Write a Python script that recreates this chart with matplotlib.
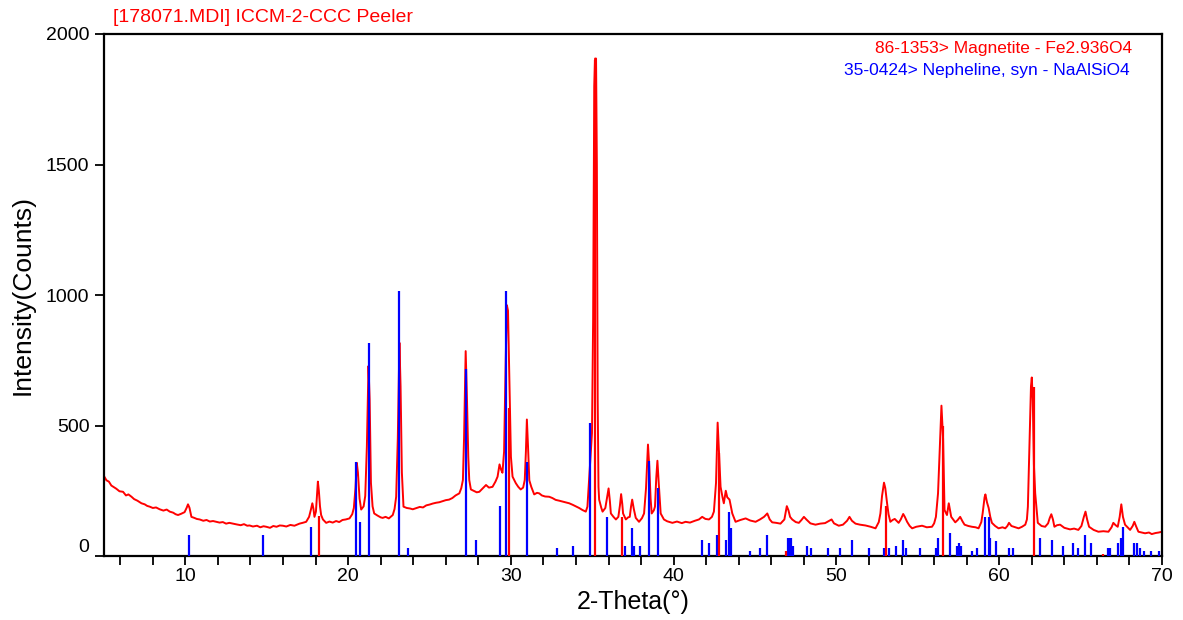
import matplotlib
matplotlib.use("Agg")
import matplotlib.pyplot as plt

plt.rcParams['font.family'] = ['Liberation Sans', 'DejaVu Sans']

two_theta = [
    5.00, 5.15, 5.30, 5.45, 5.57, 5.75, 5.95, 6.17, 6.35, 6.50, 6.69, 6.85, 7.05, 7.30, 7.50, 7.65,
    7.81, 8.00, 8.20, 8.42, 8.65, 8.85, 9.04, 9.25, 9.40, 9.55, 9.75, 9.95, 10.08, 10.16, 10.25, 10.37,
    10.55, 10.70, 10.88, 11.10, 11.30, 11.50, 11.70, 11.90, 12.10, 12.30, 12.50, 12.70, 12.92, 13.15,
    13.40, 13.60, 13.80, 13.94, 14.15, 14.40, 14.60, 14.80, 14.97, 15.20, 15.40, 15.60, 15.80, 15.99,
    16.20, 16.45, 16.70, 16.90, 17.01, 17.20, 17.42, 17.60, 17.72, 17.80, 17.87, 17.93, 18.02, 18.10,
    18.14, 18.20, 18.27, 18.34, 18.45, 18.65, 18.85, 19.05, 19.26, 19.45, 19.65, 19.85, 20.08, 20.25,
    20.35, 20.45, 20.53, 20.60, 20.70, 20.80, 20.95, 21.05, 21.15, 21.25, 21.32, 21.40, 21.50, 21.60,
    21.80, 22.00, 22.12, 22.30, 22.50, 22.74, 22.85, 22.95, 23.05, 23.15, 23.22, 23.30, 23.40, 23.60,
    23.80, 23.97, 24.20, 24.40, 24.60, 24.80, 25.00, 25.20, 25.40, 25.60, 25.80, 26.00, 26.20, 26.40,
    26.60, 26.83, 26.95, 27.05, 27.12, 27.22, 27.30, 27.38, 27.44, 27.54, 27.70, 27.90, 28.06, 28.25,
    28.47, 28.65, 28.87, 29.05, 29.18, 29.30, 29.40, 29.48, 29.58, 29.68, 29.75, 29.82, 29.90, 30.00,
    30.10, 30.30, 30.45, 30.60, 30.75, 30.85, 30.92, 30.98, 31.05, 31.13, 31.25, 31.43, 31.60, 31.74,
    31.90, 32.10, 32.35, 32.55, 32.75, 32.96, 33.20, 33.40, 33.58, 33.80, 34.00, 34.19, 34.40, 34.60,
    34.70, 34.85, 34.98, 35.05, 35.12, 35.17, 35.23, 35.28, 35.33, 35.38, 35.42, 35.55, 35.63, 35.80,
    35.92, 36.00, 36.08, 36.14, 36.30, 36.45, 36.60, 36.70, 36.77, 36.84, 36.89, 37.06, 37.20, 37.30,
    37.38, 37.45, 37.55, 37.67, 37.87, 38.05, 38.18, 38.30, 38.42, 38.50, 38.58, 38.65, 38.78, 38.85,
    38.93, 39.00, 39.08, 39.20, 39.40, 39.60, 39.92, 40.20, 40.50, 40.73, 41.00, 41.30, 41.55, 41.75,
    41.95, 42.17, 42.35, 42.47, 42.60, 42.70, 42.78, 42.88, 43.00, 43.08, 43.20, 43.29, 43.43, 43.60,
    43.80, 44.10, 44.42, 44.70, 45.03, 45.30, 45.55, 45.75, 45.90, 46.05, 46.30, 46.56, 46.80, 46.95,
    47.05, 47.15, 47.28, 47.50, 47.69, 47.85, 48.00, 48.15, 48.40, 48.71, 49.00, 49.30, 49.55, 49.70,
    49.85, 50.14, 50.40, 50.65, 50.80, 50.95, 51.17, 51.45, 51.78, 52.10, 52.40, 52.60, 52.70, 52.80,
    52.92, 53.00, 53.11, 53.20, 53.31, 53.45, 53.58, 53.82, 53.95, 54.10, 54.20, 54.34, 54.50, 54.65,
    54.90, 55.26, 55.55, 55.87, 56.00, 56.11, 56.24, 56.35, 56.45, 56.55, 56.64, 56.79, 56.90, 57.05,
    57.30, 57.45, 57.60, 57.75, 57.87, 58.10, 58.32, 58.55, 58.73, 58.90, 58.98, 59.10, 59.15, 59.25,
    59.35, 59.45, 59.55, 59.75, 59.96, 60.20, 60.37, 60.50, 60.60, 60.75, 61.00, 61.19, 61.40, 61.60,
    61.70, 61.76, 61.85, 61.95, 62.00, 62.06, 62.13, 62.21, 62.37, 62.60, 62.82, 63.00, 63.10, 63.20,
    63.30, 63.39, 63.55, 63.74, 64.00, 64.35, 64.60, 64.86, 65.05, 65.20, 65.30, 65.40, 65.52, 65.80,
    66.09, 66.40, 66.71, 66.90, 67.01, 67.15, 67.28, 67.40, 67.50, 67.60, 67.73, 68.04, 68.20, 68.30,
    68.40, 68.55, 68.75, 68.96, 69.20, 69.37, 69.60, 69.80, 70.00,
]
counts = [
    306, 290, 285, 270, 265, 258, 248, 246, 232, 236, 227, 218, 212, 202, 198, 192,
    189, 184, 186, 179, 174, 178, 170, 166, 160, 157, 162, 168, 185, 198, 185, 150,
    146, 142, 140, 135, 138, 132, 134, 131, 128, 130, 124, 127, 124, 121,
    118, 122, 116, 117, 113, 116, 110, 114, 112, 108, 115, 112, 117, 116,
    113, 119, 116, 121, 124, 127, 131, 150, 180, 202, 180, 150, 170, 250,
    285, 250, 190, 157, 140, 127, 132, 128, 134, 130, 138, 140, 144, 160,
    184, 260, 357, 320, 220, 178, 190, 230, 420, 728, 600, 280, 190, 163,
    155, 148, 146, 150, 144, 157, 180, 227, 450, 817, 650, 320, 189, 184,
    182, 179, 184, 188, 186, 194, 197, 201, 204, 206, 210, 214, 216, 222,
    232, 240, 260, 291, 450, 785, 600, 380, 291, 255, 250, 244, 246, 258,
    272, 262, 265, 285, 304, 351, 330, 319, 400, 750, 961, 940, 700, 380,
    304, 279, 265, 255, 262, 291, 400, 523, 420, 290, 265, 236, 242, 240,
    232, 228, 227, 222, 215, 212, 208, 205, 202, 196, 190, 184, 176, 170,
    189, 342, 471, 900, 1800, 1906, 1906, 1500, 600, 265, 216, 185, 170, 184,
    230, 259, 210, 163, 150, 140, 150, 195, 237, 200, 163, 140, 148, 150,
    190, 216, 180, 146, 131, 145, 163, 260, 427, 342, 220, 163, 175, 189,
    300, 365, 280, 163, 140, 133, 127, 132, 126, 131, 128, 135, 140, 150,
    142, 140, 150, 170, 280, 511, 400, 265, 225, 202, 250, 225, 216, 163,
    131, 138, 144, 136, 131, 140, 150, 163, 140, 129, 127, 124, 140, 191,
    175, 150, 140, 130, 127, 138, 150, 140, 125, 120, 124, 126, 135, 140,
    125, 116, 120, 135, 150, 135, 124, 120, 117, 112, 106, 130, 163, 230,
    281, 260, 202, 160, 131, 138, 142, 127, 140, 161, 150, 131, 115, 106,
    112, 116, 110, 112, 125, 150, 240, 420, 576, 450, 176, 157, 202, 150,
    129, 138, 150, 132, 120, 115, 112, 110, 106, 130, 163, 225, 236, 205,
    184, 150, 127, 115, 106, 110, 106, 115, 127, 115, 110, 106, 112, 120,
    140, 189, 400, 650, 684, 600, 350, 240, 127, 115, 112, 125, 145, 160,
    140, 112, 118, 120, 108, 102, 105, 100, 115, 150, 170, 140, 112, 100,
    93, 95, 93, 110, 127, 118, 112, 150, 198, 150, 120, 100, 115, 131,
    115, 93, 90, 87, 90, 84, 88, 90, 93,
]

# reference card 86-1353 Magnetite
magnetite_pos = [18.19, 29.90, 35.18, 36.81, 42.78, 46.87, 53.07, 56.57, 62.12, 66.35]
magnetite_int = [152, 567, 1900, 150, 396, 19, 190, 500, 647, 9]

# reference card 35-0424 Nepheline
nepheline_pos = [
    10.21, 14.74, 17.73, 20.49, 20.71, 21.29, 23.15, 23.67, 27.24, 27.85, 29.33, 29.71, 30.98,
    32.84, 33.84, 34.85, 35.93, 36.99, 37.46, 37.56, 37.91, 38.49, 39.04, 41.75, 42.17, 42.68,
    43.19, 43.37, 43.52, 44.68, 45.29, 45.71, 47.03, 47.11, 47.18, 47.32, 48.18, 48.45, 49.49,
    50.22, 50.94, 51.98, 52.90, 53.25, 53.66, 54.09, 54.30, 55.15, 56.14, 56.26, 56.99, 57.42,
    57.55, 57.67, 58.32, 58.65, 59.14, 59.38, 59.45, 59.80, 60.61, 60.86, 62.51, 63.27, 63.94,
    64.56, 64.84, 65.27, 65.62, 66.71, 66.83, 67.32, 67.49, 67.63, 68.30, 68.49, 68.65, 68.91,
    69.30, 69.84,
]
nepheline_int = [
    80, 80, 110, 360, 131, 815, 1015, 30, 715, 61, 191, 1015, 361,
    30, 40, 510, 150, 40, 108, 40, 40, 365, 260, 61, 51, 80,
    61, 170, 108, 19, 30, 80, 70, 70, 70, 38, 40, 30, 30,
    30, 60, 30, 30, 30, 40, 61, 30, 30, 30, 70, 90, 40,
    51, 40, 19, 30, 150, 150, 70, 59, 30, 30, 70, 60, 40,
    51, 30, 80, 51, 30, 30, 51, 70, 110, 51, 51, 30, 19,
    19, 19,
]

fig = plt.figure(figsize=(11.83, 6.2), dpi=100)
ax = fig.add_axes([104 / 1183, 1 - 556 / 620, (1162 - 104) / 1183, (556 - 34) / 620])

ax.plot(two_theta, counts, color='red', lw=1.4, zorder=2)
ax.vlines(nepheline_pos, 0, nepheline_int, color='blue', lw=1.6, zorder=3)
ax.vlines(magnetite_pos, 0, magnetite_int, color='red', lw=1.6, zorder=4)

ax.set_xlim(5, 70)
ax.set_ylim(0, 2000)

ax.set_xticks(range(6, 71, 2))
ax.set_xticklabels([str(t) if t % 10 == 0 else '' for t in range(6, 71, 2)])
ax.set_yticks([0, 500, 1000, 1500, 2000])
ax.set_yticklabels(['0', '500', '1000', '1500', '2000'])
ax.tick_params(axis='both', direction='out', length=6.5, width=1.3, labelsize=14, colors='black')
ax.tick_params(axis='x', pad=2)
ax.tick_params(axis='y', pad=4)
ax.get_yticklabels()[0].set_verticalalignment('bottom')

for sp in ax.spines.values():
    sp.set_linewidth(1.6)

ax.set_xlabel('2-Theta(°)', fontsize=18, labelpad=4)
ax.set_ylabel('Intensity(Counts)', fontsize=19, labelpad=8)

fig.text(113 / 1183, 1 - 18 / 620, '[178071.MDI] ICCM-2-CCC Peeler', color='red',
         fontsize=14, ha='left', va='center')
ax.text(1132 / 1183, 1 - 48 / 620, '86-1353> Magnetite - Fe2.936O4', color='red',
        fontsize=12.5, ha='right', va='center', transform=fig.transFigure)
ax.text(1130 / 1183, 1 - 70 / 620, '35-0424> Nepheline, syn - NaAlSiO4', color='blue',
        fontsize=12.5, ha='right', va='center', transform=fig.transFigure)

fig.savefig('out.png', dpi=100)
